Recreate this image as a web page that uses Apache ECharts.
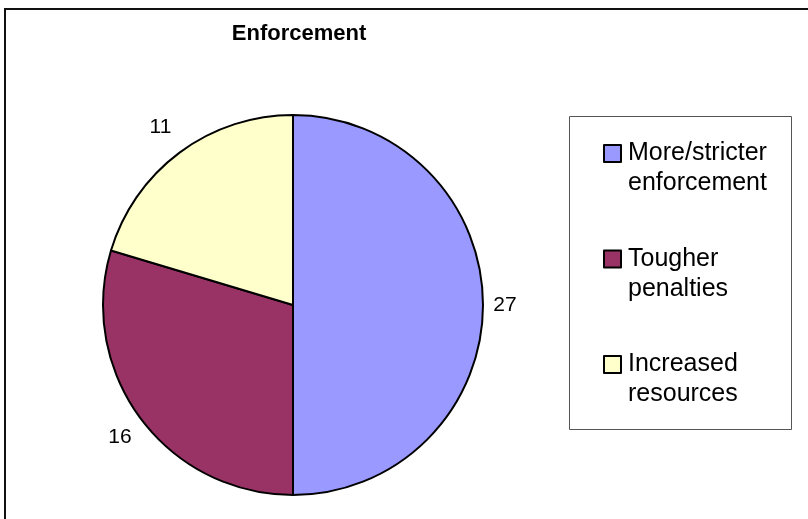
<!DOCTYPE html>
<html>
<head>
<meta charset="utf-8">
<script src="https://cdn.jsdelivr.net/npm/echarts@6/dist/echarts.min.js"></script>
<style>
html,body{margin:0;padding:0;background:#fff;}
#chart{width:808px;height:519px;}
</style>
</head>
<body>
<div id="chart"></div>
<script>
const titleText = 'Enforcement';
const categories = ['More/stricter\nenforcement', 'Tougher\npenalties', 'Increased\nresources'];
const values = [27, 16, 11];
const colors = ['#9999FF', '#993366', '#FFFFCC'];

const FONT = 'Liberation Sans, Arial, sans-serif';
const cx = 293, cy = 305, R = 190;
// small per-label nudges (padding) to mimic Excel's outside label placement
const labelPads = [[0, 20, 0, 0], [6, 0, 0, 10], [0, 0, 0, 0]];

const chart = echarts.init(document.getElementById('chart'));
const data = categories.map((c, i) => ({ name: c, value: values[i], itemStyle: { color: colors[i] } }));
const labelData = categories.map((c, i) => ({ name: c, value: values[i], label: { padding: labelPads[i] } }));

chart.setOption({
  animation: false,
  backgroundColor: '#ffffff',
  title: {
    text: titleText,
    left: 294, top: 18,
    textAlign: 'center',
    textStyle: { fontFamily: FONT, fontWeight: 'bold', fontSize: 22, color: '#000' }
  },
  graphic: [
    { type: 'rect', shape: { x: 5, y: 9, width: 900, height: 600 }, style: { fill: 'none', stroke: '#111', lineWidth: 2 }, silent: true },
    { type: 'rect', shape: { x: 569.5, y: 116.5, width: 222, height: 313 }, style: { fill: 'none', stroke: '#555', lineWidth: 1 }, silent: true }
  ],
  legend: {
    orient: 'vertical',
    left: 603, top: 108.5,
    padding: 0,
    itemWidth: 17, itemHeight: 17,
    itemGap: 15.5,
    icon: 'rect',
    itemStyle: { borderColor: '#000', borderWidth: 2 },
    formatter: function (n) { return '\n' + n; },
    textStyle: { fontFamily: FONT, fontSize: 25, lineHeight: 30, color: '#000', padding: [0, 0, 0, 2] },
    data: categories
  },
  series: [
    {
      type: 'pie',
      center: [cx, cy],
      radius: [0, R],
      startAngle: 90,
      clockwise: true,
      data: data,
      itemStyle: { borderColor: '#000', borderWidth: 2 },
      label: { show: false },
      labelLine: { show: false },
      emphasis: { disabled: true }
    },
    {
      type: 'pie',
      center: [cx, cy],
      radius: [R, R + 58],
      startAngle: 90,
      clockwise: true,
      silent: true,
      data: labelData,
      itemStyle: { color: 'rgba(0,0,0,0)', borderWidth: 0 },
      label: { show: true, position: 'inside', formatter: '{c}', fontFamily: FONT, fontSize: 21, color: '#000' },
      labelLine: { show: false },
      emphasis: { disabled: true },
      legendHoverLink: false
    }
  ]
});
</script>
</body>
</html>
